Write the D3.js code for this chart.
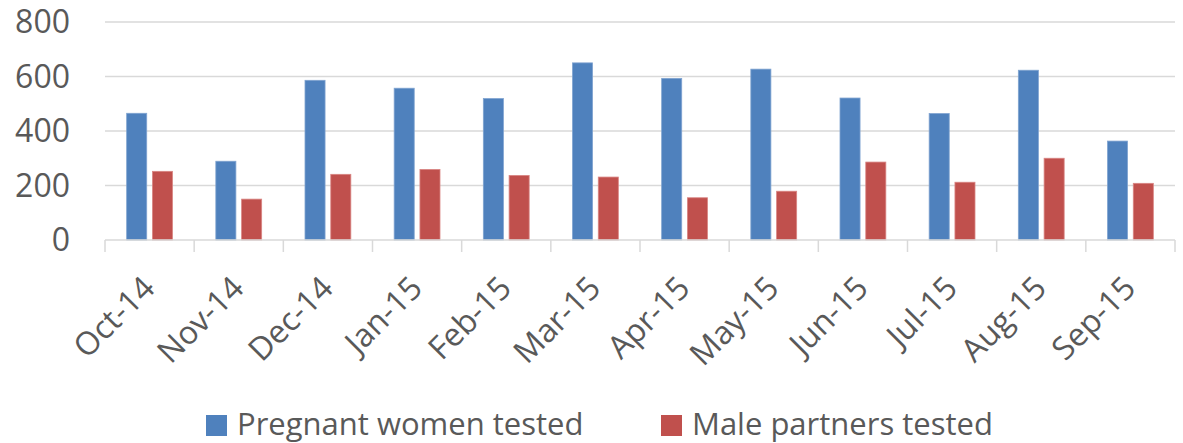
<!DOCTYPE html>
<html>
<head>
<meta charset="utf-8">
<script src="https://cdn.jsdelivr.net/npm/d3@7"></script>
<style>
  body { margin: 0; background: #fff; }
  svg text { font-family: "Open Sans", sans-serif; fill: #595959; }
</style>
</head>
<body>
<div id="chart"></div>
<script>
// values
var months = ["Oct-14","Nov-14","Dec-14","Jan-15","Feb-15","Mar-15","Apr-15","May-15","Jun-15","Jul-15","Aug-15","Sep-15"];
var pregnantWomen = [465, 289, 586, 557, 519, 650, 593, 627, 521, 464, 623, 363];
var malePartners = [252, 150, 241, 259, 237, 231, 155, 179, 286, 212, 300, 208];
var seriesNames = ["Pregnant women tested", "Male partners tested"];
var yTicks = [0, 200, 400, 600, 800];

var W = 1183, H = 443;
var margin = {top: 22, right: 8, bottom: 203, left: 105};
var colors = ["#4F81BD", "#C0504D"];
var edge = ["#7FA3D0", "#D98583"];

var svg = d3.select("#chart").append("svg")
  .attr("width", W)
  .attr("height", H);

var x = d3.scaleBand().domain(months).range([margin.left, W - margin.right]).padding(0);
var inner = d3.scaleBand().domain(seriesNames)
  .range([x.bandwidth() * 0.243, x.bandwidth() * 0.757])
  .paddingInner(0.222);
var y = d3.scaleLinear().domain([0, 800]).range([H - margin.bottom, margin.top]);

// gridlines
svg.append("g").selectAll("line")
  .data(yTicks.slice(1))
  .enter().append("line")
  .attr("x1", margin.left).attr("x2", W - margin.right)
  .attr("y1", function(d){ return y(d); })
  .attr("y2", function(d){ return y(d); })
  .attr("stroke", "#d9d9d9")
  .attr("stroke-width", 1.5);

// y labels
svg.append("g").selectAll("text")
  .data(yTicks)
  .enter().append("text")
  .attr("x", 70)
  .attr("y", function(d){ return y(d); })
  .attr("dy", "0.35em")
  .attr("text-anchor", "end")
  .style("font-size", "32px")
  .text(function(d){ return d; });

// bars
var table = months.map(function(m, i){
  return {month: m, vals: [pregnantWomen[i], malePartners[i]]};
});

var groups = svg.append("g").selectAll("g")
  .data(table)
  .enter().append("g")
  .attr("transform", function(d){ return "translate(" + x(d.month) + ",0)"; });

groups.selectAll("rect")
  .data(function(d){ return d.vals.map(function(v, k){ return {name: seriesNames[k], k: k, v: v}; }); })
  .enter().append("rect")
  .attr("x", function(d){ return inner(d.name); })
  .attr("width", inner.bandwidth())
  .attr("y", function(d){ return y(d.v); })
  .attr("height", function(d){ return y(0) - y(d.v); })
  .attr("fill", function(d){ return colors[d.k]; })
  .attr("stroke", function(d){ return edge[d.k]; })
  .attr("stroke-width", 0.8);

// x axis line + ticks at category edges
var xAxis = svg.append("g").attr("transform", "translate(0," + y(0) + ")");
xAxis.append("line")
  .attr("x1", margin.left).attr("x2", W - margin.right)
  .attr("stroke", "#d9d9d9").attr("stroke-width", 1.5);
var edges = months.map(function(m){ return x(m); }).concat([W - margin.right]);
xAxis.selectAll(".tk")
  .data(edges)
  .enter().append("line")
  .attr("class", "tk")
  .attr("x1", function(d){ return d; }).attr("x2", function(d){ return d; })
  .attr("y1", 0).attr("y2", 12)
  .attr("stroke", "#d9d9d9").attr("stroke-width", 1.5);

// rotated month labels
svg.append("g").selectAll("text")
  .data(months)
  .enter().append("text")
  .attr("transform", function(d){
    return "translate(" + (x(d) + x.bandwidth() / 2 + 7) + "," + 290 + ") rotate(-45)";
  })
  .attr("text-anchor", "end")
  .style("font-size", "32px")
  .text(function(d){ return d; });

// legend
var legend = svg.append("g").attr("transform", "translate(0,426)");
var legX = [206, 661];
seriesNames.forEach(function(name, k){
  var g = legend.append("g").attr("transform", "translate(" + legX[k] + ",0)");
  g.append("rect").attr("x", 0).attr("y", -11).attr("width", 21).attr("height", 21).attr("fill", colors[k]);
  g.append("text").attr("x", 31).attr("y", 9)
    .style("font-size", "31px")
    .text(name);
});
</script>
</body>
</html>
